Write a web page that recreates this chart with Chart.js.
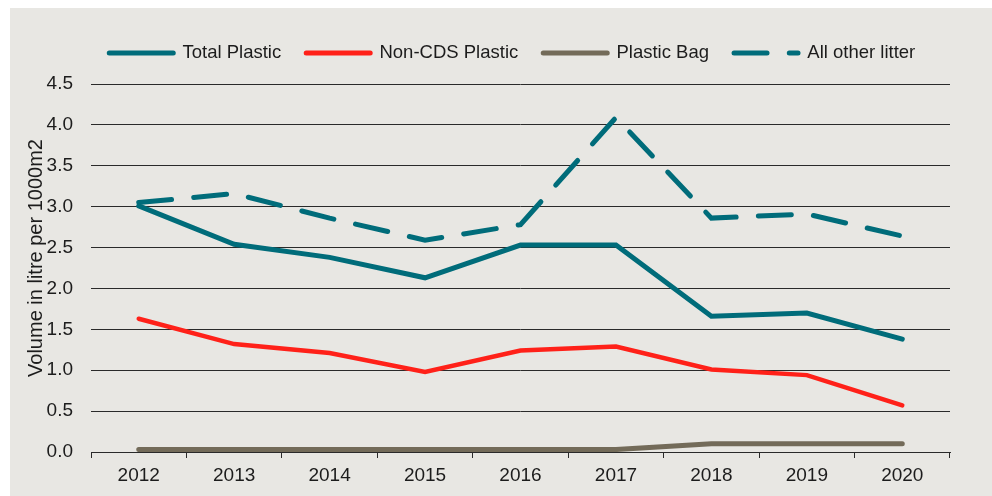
<!DOCTYPE html>
<html>
<head>
<meta charset="utf-8">
<script src="https://cdn.jsdelivr.net/npm/chart.js@4.4.1/dist/chart.umd.min.js"></script>
<style>
  html, body { margin: 0; padding: 0; background: #ffffff; }
  #wrap { position: absolute; left: 10px; top: 8px; width: 982px; height: 488px; background: #E8E7E3; }
  canvas { display: block; }
</style>
</head>
<body>
<div id="wrap"><canvas id="litter" width="982" height="488"></canvas></div>
<script>
// Survey years
const years = ['2012', '2013', '2014', '2015', '2016', '2017', '2018', '2019', '2020'];

// Volume in litre per 1000 m2
const totalPlastic   = [3.01, 2.54, 2.38, 2.13, 2.53, 2.53, 1.66, 1.70, 1.38];
const nonCdsPlastic  = [1.63, 1.32, 1.21, 0.98, 1.24, 1.29, 1.01, 0.94, 0.57];
const plasticBag     = [0.03, 0.03, 0.03, 0.03, 0.03, 0.03, 0.10, 0.10, 0.10];
const allOtherLitter = [3.05, 3.16, 2.86, 2.59, 2.78, 4.09, 2.86, 2.91, 2.64];

const TEAL = '#006C7A';
const RED = '#FF2119';
const BAG = '#736B59';
const INK = '#1c1c1c';
const FONT = "'Liberation Sans', Arial, sans-serif";

// Extra room between the legend row and the plot area
const legendGap = {
  id: 'legendGap',
  beforeUpdate(chart, args, opts) {
    const lg = chart.legend;
    if (lg && !lg._gapWrapped) {
      const fit = lg.fit;
      lg.fit = function () {
        fit.call(this);
        this.height += opts.extra;
      };
      lg._gapWrapped = true;
    }
  }
};

// Rotated y-axis caption
const yCaption = {
  id: 'yCaption',
  afterDraw(chart, args, opts) {
    const { ctx, chartArea } = chart;
    ctx.save();
    ctx.translate(opts.x, (chartArea.top + chartArea.bottom) / 2 + opts.shift);
    ctx.rotate(-Math.PI / 2);
    ctx.textAlign = 'center';
    ctx.textBaseline = 'middle';
    ctx.font = opts.size + 'px ' + FONT;
    ctx.fillStyle = INK;
    ctx.fillText(opts.text, 0, 0);
    ctx.restore();
  }
};

new Chart(document.getElementById('litter'), {
  type: 'line',
  data: {
    labels: years,
    datasets: [
      { label: 'Total Plastic', data: totalPlastic, borderColor: TEAL, backgroundColor: TEAL, borderWidth: 5 },
      { label: 'Non-CDS Plastic', data: nonCdsPlastic, borderColor: RED, backgroundColor: RED, borderWidth: 4.5 },
      { label: 'Plastic Bag', data: plasticBag, borderColor: BAG, backgroundColor: BAG, borderWidth: 5 },
      { label: 'All other litter', data: allOtherLitter, borderColor: TEAL, backgroundColor: TEAL, borderWidth: 5, borderDash: [33, 22.25] }
    ]
  },
  options: {
    responsive: false,
    animation: false,
    devicePixelRatio: 1,
    layout: { padding: { left: 22.5, top: 10.75, right: 0, bottom: 0 } },
    elements: {
      line: { tension: 0, borderCapStyle: 'round', borderJoinStyle: 'miter', fill: false },
      point: { radius: 0, hoverRadius: 0 }
    },
    events: [],
    plugins: {
      tooltip: { enabled: false },
      legend: {
        position: 'top',
        align: 'center',
        labels: {
          usePointStyle: true,
          pointStyle: 'line',
          pointStyleWidth: 64,
          padding: 25,
          color: INK,
          font: { family: FONT, size: 18.5 },
          generateLabels(chart) {
            return chart.data.datasets.map((ds, i) => ({
              text: ds.label,
              fillStyle: ds.borderColor,
              strokeStyle: ds.borderColor,
              fontColor: INK,
              lineWidth: 5,
              lineDash: ds.borderDash || [],
              lineDashOffset: 0,
              lineCap: 'round',
              lineJoin: 'round',
              pointStyle: 'line',
              rotation: 0,
              hidden: false,
              datasetIndex: i
            }));
          }
        }
      },
      legendGap: { extra: 11.75 },
      yCaption: { text: 'Volume in litre per 1000m2', x: 26, shift: -10, size: 20 }
    },
    scales: {
      x: {
        offset: true,
        grid: { offset: true, drawOnChartArea: false, drawTicks: true, tickLength: 6, color: '#2a2a2a', lineWidth: 1 },
        border: { display: true, color: '#2a2a2a', width: 1 },
        ticks: { color: INK, font: { family: FONT, size: 19 }, padding: 6, maxRotation: 0, autoSkip: false },
        afterFit(scale) { scale.height = 44; }
      },
      y: {
        min: 0,
        max: 4.5,
        grid: { drawTicks: false, color: '#2a2a2a', lineWidth: 1 },
        border: { display: false },
        ticks: { stepSize: 0.5, padding: 18, color: INK, font: { family: FONT, size: 19 }, callback: v => v.toFixed(1) },
        afterFit(scale) { scale.width = 58.5; }
      },
      // empty right-hand margin so the plot ends short of the frame
      margin: {
        position: 'right',
        min: 0,
        max: 4.5,
        grid: { display: false },
        border: { display: false },
        ticks: { display: false },
        afterFit(scale) { scale.width = 42; }
      }
    }
  },
  plugins: [legendGap, yCaption]
});
</script>
</body>
</html>
